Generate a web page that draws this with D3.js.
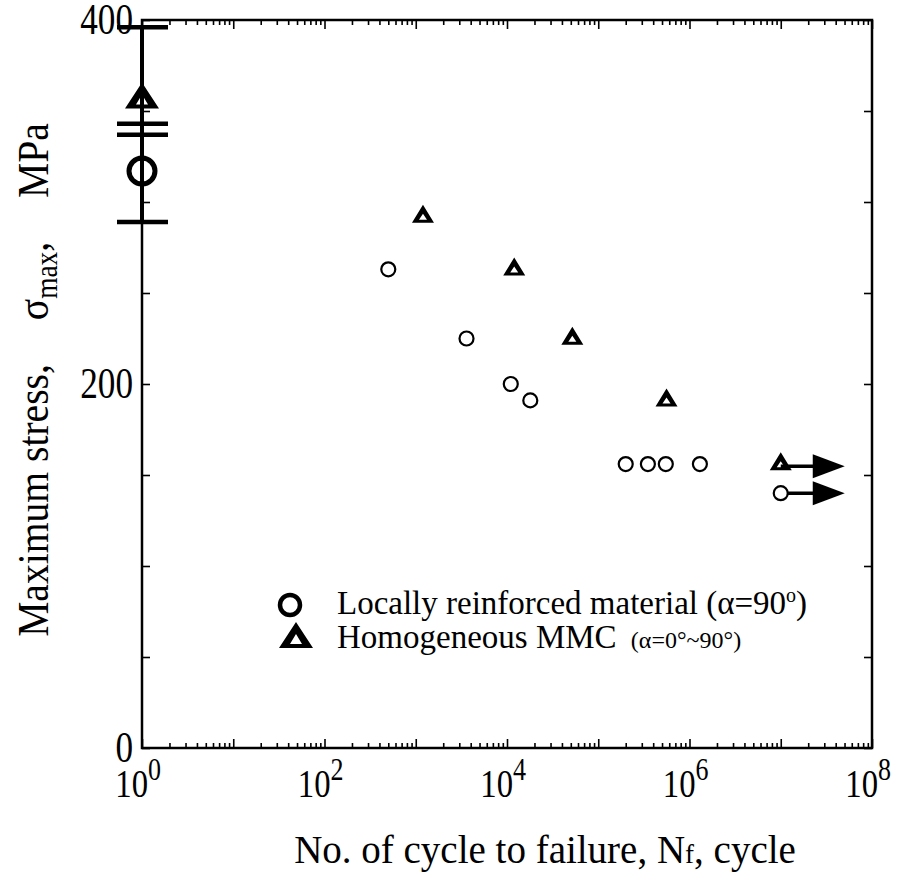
<!DOCTYPE html>
<html>
<head>
<meta charset="utf-8">
<script src="https://cdn.jsdelivr.net/npm/d3@7"></script>
<style>
  body { margin: 0; background: #fff; }
  svg { display: block; font-family: "Liberation Serif", "Times New Roman", serif; }
</style>
</head>
<body>
<div id="chart"></div>
<script>
// fatigue results: cycles to failure vs maximum stress (MPa)
const locallyCycles = [500, 3600, 11000, 18000, 200000, 350000, 550000, 1300000, 1e7];
const locallyStress = [263, 225, 200, 191, 156, 156, 156, 156, 140];
const locallyRunout = [false, false, false, false, false, false, false, false, true];

const homogCycles = [1200, 12000, 52000, 560000, 1e7];
const homogStress = [293, 264, 226, 192, 157];
const homogRunout = [false, false, false, false, true];

// static strength plotted at N = 1 (mean, lower, upper)
const staticSeries = ["circle", "triangle"];
const staticMean = [317, 358];
const staticLow = [289, 337];
const staticHigh = [343, 396];

const xDecadeLabels = [0, 2, 4, 6, 8];
const yTickValues = [0, 50, 100, 150, 200, 250, 300, 350, 400];
const yLabelValues = [0, 200, 400];

const width = 909, height = 876;
const margin = { top: 20, right: 37, bottom: 128, left: 142 };

const svg = d3.select("#chart").append("svg")
  .attr("width", width)
  .attr("height", height);

const x = d3.scaleLog().domain([1, 1e8]).range([margin.left, width - margin.right]);
const y = d3.scaleLinear().domain([0, 400]).range([height - margin.bottom, margin.top]);

// --- axes ---
const minorX = [];
for (let e = 0; e < 8; e++) for (let m = 2; m <= 9; m++) minorX.push(m * Math.pow(10, e));
const majorX = d3.range(0, 9).map(e => Math.pow(10, e));

function addAxis(axis, transform) {
  const g = svg.append("g").attr("transform", transform).call(axis);
  g.select(".domain").remove();
  g.selectAll("line").attr("stroke", "#000").attr("stroke-width", 1.6);
  g.selectAll("text").remove();
  return g;
}

const yb = y(0), yt = y(400);
addAxis(d3.axisBottom(x).tickValues(minorX).tickSize(-5), `translate(0,${yb})`);
addAxis(d3.axisBottom(x).tickValues(majorX).tickSize(-9), `translate(0,${yb})`);
addAxis(d3.axisTop(x).tickValues(minorX).tickSize(-5), `translate(0,${yt})`);
addAxis(d3.axisTop(x).tickValues(majorX).tickSize(-9), `translate(0,${yt})`);
addAxis(d3.axisLeft(y).tickValues(yTickValues).tickSize(-8), `translate(${x(1)},0)`);
addAxis(d3.axisRight(y).tickValues(yTickValues).tickSize(-8), `translate(${x(1e8)},0)`);

svg.append("rect")
  .attr("x", x(1)).attr("y", y(400))
  .attr("width", x(1e8) - x(1)).attr("height", y(0) - y(400))
  .attr("fill", "none").attr("stroke", "#000").attr("stroke-width", 2.5);

// y tick labels
svg.selectAll(".ylab").data(yLabelValues).enter().append("text")
  .attr("class", "ylab")
  .attr("transform", d => `translate(${x(1) - 9},${y(d) + 14}) scale(0.8,1)`)
  .attr("text-anchor", "end")
  .attr("font-size", 44)
  .text(d => d);

// x tick labels 10^n
const xl = svg.selectAll(".xlab").data(xDecadeLabels).enter().append("g")
  .attr("class", "xlab")
  .attr("transform", d => `translate(${x(Math.pow(10, d)) + 6},797)`);
xl.append("text").attr("text-anchor", "end").attr("font-size", 39)
  .attr("transform", "scale(0.84,1)").text("10");
xl.append("text").attr("text-anchor", "start").attr("font-size", 31).attr("y", -17)
  .attr("transform", "scale(0.84,1)").text(d => d);

// axis titles
const xt = svg.append("text")
  .attr("x", 545).attr("y", 863)
  .attr("text-anchor", "middle")
  .attr("font-size", 39);
xt.append("tspan").text("No. of cycle to failure, N");
xt.append("tspan").attr("font-size", 27).text("f");
xt.append("tspan").text(", cycle");

const yTitle = svg.append("text")
  .attr("transform", "translate(48,380) rotate(-90) scale(0.88,1)")
  .attr("text-anchor", "middle")
  .attr("font-size", 45);
yTitle.append("tspan").text("Maximum stress,");
yTitle.append("tspan").attr("dx", 50).text("σ");
yTitle.append("tspan").attr("font-size", 31).attr("dy", 9).text("max");
yTitle.append("tspan").attr("dy", -9).text(",");
yTitle.append("tspan").attr("dx", 50).text("MPa");

// --- markers ---
function triPath(cx, cy, o, i) {
  // outer triangle plus inner hole (evenodd)
  return `M${cx},${cy + o.top}L${cx + o.hw},${cy + o.bot}L${cx - o.hw},${cy + o.bot}Z` +
         `M${cx},${cy + i.top}L${cx - i.hw},${cy + i.bot}L${cx + i.hw},${cy + i.bot}Z`;
}
const smallTri = [{ hw: 11, top: -10, bot: 8 }, { hw: 4, top: -1, bot: 5 }];
const bigTri = [{ hw: 17, top: -14, bot: 12 }, { hw: 6, top: -2, bot: 8 }];

function runoutArrow(px, py) {
  svg.append("line")
    .attr("x1", px).attr("x2", px + 34)
    .attr("y1", py).attr("y2", py)
    .attr("stroke", "#000").attr("stroke-width", 3.5);
  svg.append("path")
    .attr("d", `M${px + 32},${py - 12}L${px + 64},${py}L${px + 32},${py + 12}Z`)
    .attr("fill", "#000");
}

locallyCycles.forEach((n, k) => { if (locallyRunout[k]) runoutArrow(x(n), y(locallyStress[k])); });
homogCycles.forEach((n, k) => { if (homogRunout[k]) runoutArrow(x(n), y(homogStress[k]) + 4); });

svg.selectAll(".loc").data(locallyCycles).enter().append("circle")
  .attr("class", "loc")
  .attr("cx", d => x(d))
  .attr("cy", (d, k) => y(locallyStress[k]))
  .attr("r", 7)
  .attr("fill", "#fff").attr("stroke", "#000").attr("stroke-width", 2.2);

svg.selectAll(".hom").data(homogCycles).enter().append("path")
  .attr("class", "hom")
  .attr("d", (d, k) => triPath(x(d), y(homogStress[k]), smallTri[0], smallTri[1]))
  .attr("fill", "#000").attr("fill-rule", "evenodd");

// static strength at N = 1 with scatter bands
staticSeries.forEach((s, k) => {
  const cx = x(1), cy = y(staticMean[k]);
  if (s === "circle") {
    svg.append("circle").attr("cx", cx).attr("cy", cy).attr("r", 13)
      .attr("fill", "none").attr("stroke", "#000").attr("stroke-width", 5);
  } else {
    svg.append("path").attr("d", triPath(cx, cy, bigTri[0], bigTri[1]))
      .attr("fill", "#000").attr("fill-rule", "evenodd");
  }
});
staticSeries.forEach((s, k) => {
  const cx = x(1);
  svg.append("line")
    .attr("x1", cx).attr("x2", cx)
    .attr("y1", y(staticLow[k])).attr("y2", y(staticHigh[k]))
    .attr("stroke", "#000").attr("stroke-width", 4);
  [staticLow[k], staticHigh[k]].forEach(v => {
    svg.append("line")
      .attr("x1", cx - 25).attr("x2", cx + 26)
      .attr("y1", y(v)).attr("y2", y(v))
      .attr("stroke", "#000").attr("stroke-width", 4.5);
  });
});

// --- legend ---
svg.append("circle").attr("cx", 290).attr("cy", 605).attr("r", 10)
  .attr("fill", "none").attr("stroke", "#000").attr("stroke-width", 4.5);
const l1 = svg.append("text").attr("x", 337).attr("y", 614).attr("font-size", 33);
l1.append("tspan").text("Locally reinforced material (α=90");
l1.append("tspan").attr("font-size", 20).attr("dy", -12).text("o");
l1.append("tspan").attr("dy", 12).text(")");

svg.append("path").attr("d", triPath(296, 636, bigTri[0], bigTri[1]))
  .attr("fill", "#000").attr("fill-rule", "evenodd");
const l2 = svg.append("text").attr("x", 337).attr("y", 648).attr("font-size", 33);
l2.append("tspan").text("Homogeneous MMC ");
l2.append("tspan").attr("font-size", 24).attr("dx", 6).text("(α=0°~90°)");
</script>
</body>
</html>
